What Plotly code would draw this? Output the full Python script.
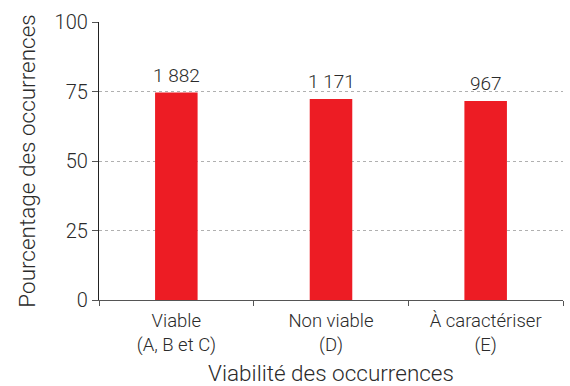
import plotly.graph_objects as go

categories = ["Viable<br>(A, B et C)", "Non viable<br>(D)", "À caractériser<br>(E)"]
percentages = [74.6, 72.3, 71.6]
counts = ["1 882", "1 171", "967"]
y_ticks = [0, 25, 50, 75, 100]

FONT = "Roboto, sans-serif"
TEXT = "#2b2b2b"
W = 300  # light weight

fig = go.Figure(
    go.Bar(
        x=categories,
        y=percentages,
        marker=dict(color="#ED1C24", line=dict(width=0)),
        width=0.275,
        hoverinfo="x+y",
    )
)

# occurrence counts above each bar
for cat, pct, n in zip(categories, percentages, counts):
    fig.add_annotation(
        x=cat, y=pct, text=n, showarrow=False,
        xanchor="center", yanchor="bottom", yshift=4,
        font=dict(family=FONT, size=19, color=TEXT, weight=W),
    )

fig.update_layout(
    width=570,
    height=386,
    margin=dict(l=99, r=7, t=22, b=86),
    paper_bgcolor="white",
    plot_bgcolor="white",
    showlegend=False,
    font=dict(family=FONT, color=TEXT, weight=W),
)

fig.update_xaxes(
    range=[-0.5, 2.5],
    automargin=False,
    showline=True,
    linecolor="#555555",
    linewidth=1.2,
    ticks="outside",
    tickson="boundaries",
    ticklen=5,
    tickcolor="#555555",
    ticklabelstandoff=4,
    tickfont=dict(family=FONT, size=18.5, color=TEXT, weight=W),
    showgrid=False,
    title=dict(text="Viabilité des occurrences",
               font=dict(family=FONT, size=22.5, color=TEXT, weight=W), standoff=10),
)

fig.update_yaxes(
    range=[0, 100],
    automargin=False,
    tickvals=y_ticks,
    showline=True,
    linecolor="#222222",
    linewidth=1.2,
    ticks="outside",
    ticklen=6,
    tickcolor="#555555",
    tickfont=dict(family=FONT, size=20, color=TEXT, weight=W),
    showgrid=True,
    gridcolor="#b0b0b0",
    griddash="dot",
    gridwidth=1,
    zeroline=False,
    title=dict(text="Pourcentage des occurrences",
               font=dict(family=FONT, size=22.5, color=TEXT, weight=W), standoff=12),
)

fig.write_html("out.html")
